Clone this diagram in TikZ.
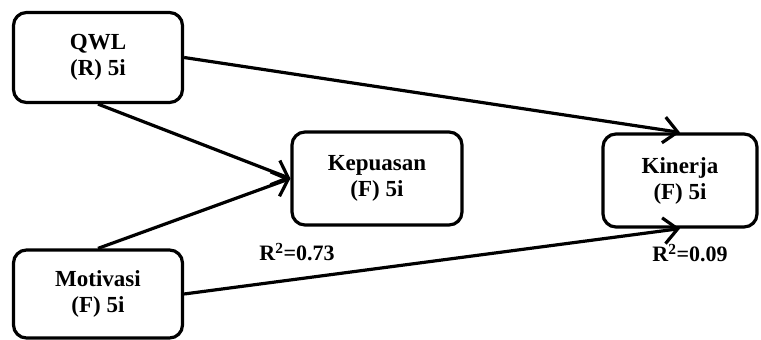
\documentclass[tikz,border=0pt]{standalone}
\usepackage{fontspec}
\setmainfont{Liberation Serif}
\usetikzlibrary{arrows.meta}
\begin{document}
\begin{tikzpicture}[x=1pt,y=-1pt,
  construct/.style={draw=black, line width=3.2pt, rounded corners=13pt, fill=white,
    align=center, font=\fontsize{23}{26}\selectfont\bfseries, inner sep=0pt},
  path/.style={draw=black, line width=3.2pt, -{Straight Barb[length=14pt,width=26pt]}},
  rsq/.style={font=\fontsize{22}{26}\selectfont\bfseries, inner sep=0pt}]
  \useasboundingbox (0,0) rectangle (761,340);
  \node[construct, minimum width=169pt, minimum height=90pt] (qwl) at (98,57.5) {QWL\\(R) 5i};
  \node[construct, minimum width=170pt, minimum height=93pt] (kep) at (377,178.5) {Kepuasan\\(F) 5i};
  \node[construct, minimum width=154pt, minimum height=93pt] (kin) at (680,180.5) {Kinerja\\(F) 5i};
  \node[construct, minimum width=169pt, minimum height=88pt] (mot) at (98,294) {Motivasi\\(F) 5i};
  \draw[path] (qwl.east) -- (kin.north);
  \draw[path] (qwl.south) -- (kep.west);
  \draw[path] (mot.north) -- (kep.west);
  \draw[path] (mot.east) -- (kin.south);
  \node[rsq] (r1) at (297,252) {R\textsuperscript{2}=0.73};
  \node[rsq] (r2) at (690,253) {R\textsuperscript{2}=0.09};
\end{tikzpicture}
\end{document}
